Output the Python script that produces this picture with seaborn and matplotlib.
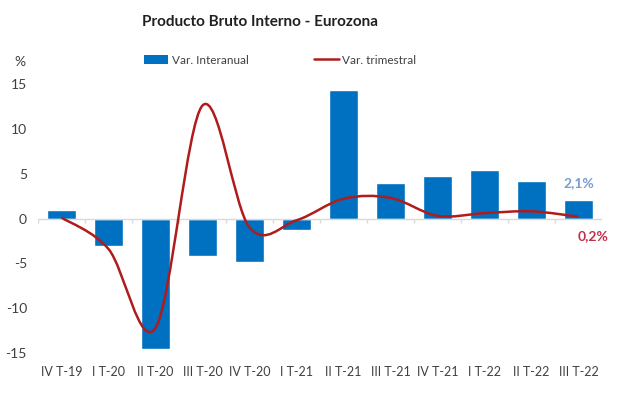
import numpy as np
import pandas as pd
import matplotlib
matplotlib.use("Agg")
import matplotlib.pyplot as plt
import seaborn as sns
from matplotlib.path import Path
from matplotlib.patches import PathPatch, Patch
from matplotlib.lines import Line2D

# Datos
trimestres = ['IV T-19', 'I T-20', 'II T-20', 'III T-20', 'IV T-20', 'I T-21',
              'II T-21', 'III T-21', 'IV T-21', 'I T-22', 'II T-22', 'III T-22']
var_interanual = [1.0, -3.1, -14.6, -4.2, -4.8, -1.3, 14.3, 4.0, 4.7, 5.4, 4.2, 2.1]
var_trimestral = [0.1, -3.4, -12.2, 12.6, -1.0, -0.2, 2.2, 2.3, 0.3, 0.6, 0.8, 0.2]

AZUL = '#0070C0'
ROJO = '#B01C1C'
GRIS = '#404040'

sns.set_style('white')
plt.rcParams['font.family'] = ['Lato', 'DejaVu Sans']
plt.rcParams['axes.unicode_minus'] = False

df = pd.DataFrame({'trimestre': trimestres, 'interanual': var_interanual})

fig = plt.figure(figsize=(6.17, 3.96), dpi=100)
ax = fig.add_axes([38 / 617, 1 - 353 / 396, 564 / 617, 269 / 396])

sns.barplot(data=df, x='trimestre', y='interanual', color=AZUL, width=0.62,
            saturation=1, ax=ax)


# Linea suavizada (estilo Excel): curvas de Bezier sobre los puntos
def suavizar(xs, ys):
    pts = np.column_stack([xs, ys]).astype(float)
    ext = np.vstack([pts[0], pts, pts[-1]])
    verts = [pts[0]]
    codes = [Path.MOVETO]
    for i in range(1, len(ext) - 2):
        p0, p1, p2, p3 = ext[i - 1], ext[i], ext[i + 1], ext[i + 2]
        verts += [p1 + (p2 - p0) / 6, p2 - (p3 - p1) / 6, p2]
        codes += [Path.CURVE4] * 3
    return Path(verts, codes)


xs = np.arange(len(trimestres))
ax.add_patch(PathPatch(suavizar(xs, var_trimestral), facecolor='none',
                       edgecolor=ROJO, linewidth=1.8, zorder=3))

# Linea del cero y marcas entre categorias
ax.axhline(0, color='#D9D9D9', linewidth=1, zorder=1)
bordes = np.arange(len(trimestres) + 1) - 0.5
ax.vlines(bordes, -0.5, 0, color='#D9D9D9', linewidth=1, zorder=1)

ax.set_xlim(-0.5, len(trimestres) - 0.5)
ax.set_ylim(-15, 15)
ax.set_yticks(range(-15, 16, 5))
ax.set_xlabel('')
ax.set_ylabel('')
for s in ax.spines.values():
    s.set_visible(False)
ax.tick_params(axis='both', length=0, colors=GRIS)
ax.tick_params(axis='x', pad=9, labelsize=9)
ax.tick_params(axis='y', pad=8, labelsize=10)

# Etiquetas del ultimo dato
ax.text(xs[-1], var_interanual[-1] + 1.2, f"{var_interanual[-1]:.1f}%".replace('.', ','),
        color='#7A9CD0', fontsize=10, fontweight='bold', ha='center', va='bottom')
ax.text(xs[-1] + 0.32, var_trimestral[-1] - 1.5, f"{var_trimestral[-1]:.1f}%".replace('.', ','),
        color='#C0304A', fontsize=10, fontweight='bold', ha='center', va='top')

fig.text(20 / 617, 1 - 62 / 396, '%', fontsize=10, color=GRIS, ha='center', va='center')
fig.text(260 / 617, 1 - 22 / 396, 'Producto Bruto Interno - Eurozona', fontsize=11,
         fontweight='bold', color='#202020', ha='center', va='center')

handles = [Patch(facecolor=AZUL, edgecolor='none'),
           Line2D([0], [0], color=ROJO, linewidth=1.8)]
fig.legend(handles, ['Var. Interanual', 'Var. trimestral'], loc='center',
           bbox_to_anchor=(280 / 617, 1 - 60 / 396), ncol=2, frameon=False,
           fontsize=8.5, columnspacing=5.5, handlelength=2.1, handletextpad=0.3,
           labelcolor=GRIS)

fig.savefig('out.png', dpi=100)
